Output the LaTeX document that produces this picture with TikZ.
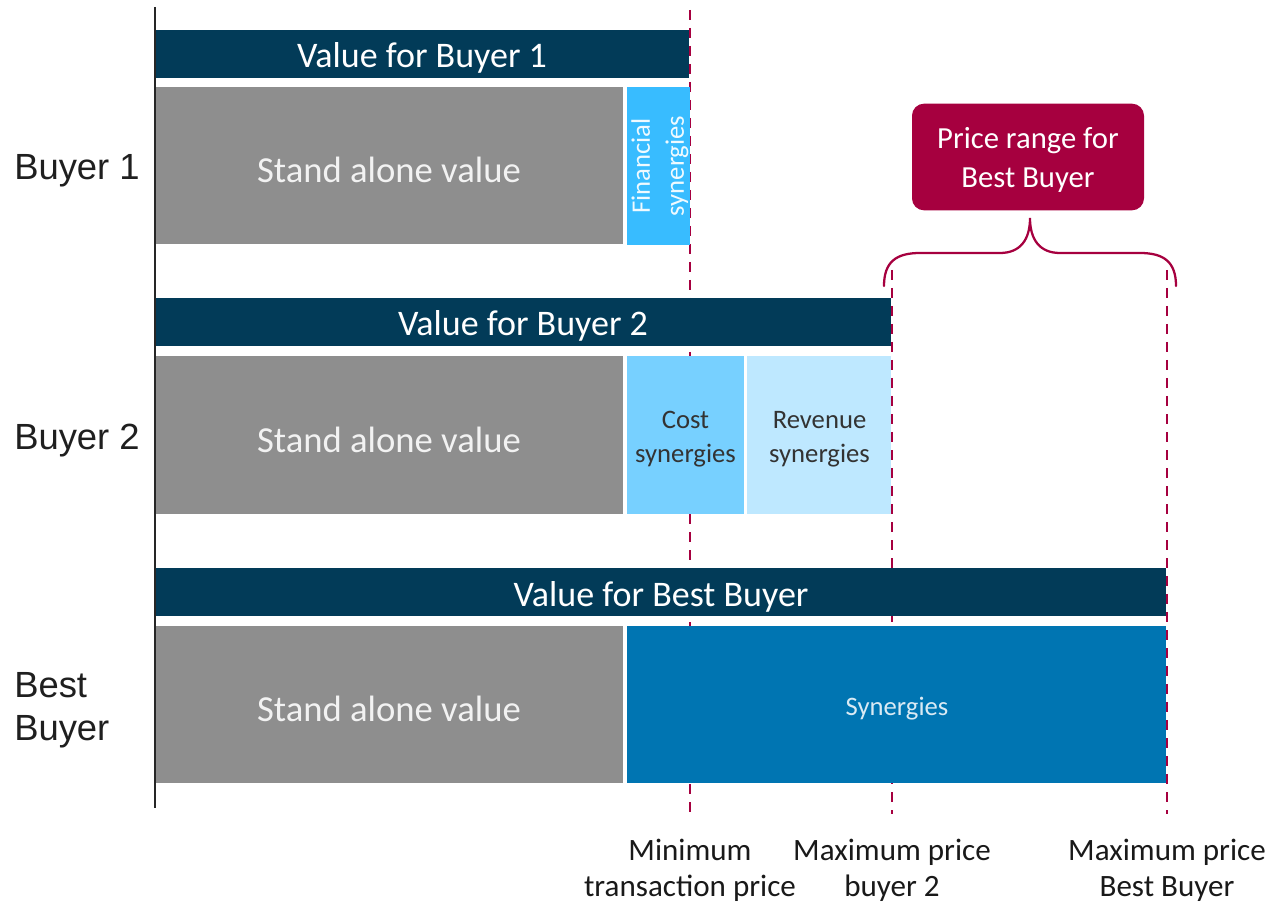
\documentclass[tikz,border=0pt]{standalone}
\usepackage{fontspec}
\setmainfont{Carlito}
\newfontfamily\labelfont{Liberation Sans}
\begin{document}
\definecolor{barblue}{HTML}{023B58}
\definecolor{standgrey}{HTML}{8E8E8E}
\definecolor{finblue}{HTML}{38BCFF}
\definecolor{costblue}{HTML}{77D0FF}
\definecolor{revblue}{HTML}{BEE8FF}
\definecolor{synblue}{HTML}{0075B2}
\definecolor{crimson}{HTML}{A6003F}
\begin{tikzpicture}[x=0.75pt,y=-0.75pt,
  bartext/.style={text=white,font=\fontsize{27}{30}\selectfont,inner sep=0pt},
  standtext/.style={text=black!5,font=\fontsize{27.5}{31}\selectfont,inner sep=0pt},
  syntext/.style={text=black!80,font=\fontsize{20}{25.5}\selectfont,align=center,inner sep=0pt},
  rowlabel/.style={anchor=west,text=black!88,font=\labelfont\fontsize{27.3}{32.3}\selectfont,align=left,inner sep=0pt},
  pricelabel/.style={text=black!90,font=\fontsize{23.3}{27}\selectfont,align=center,inner sep=0pt},
  pricemark/.style={draw=crimson,line width=2.2pt,dash pattern=on 7.5pt off 6pt},
  rangebox/.style={fill=crimson,rounded corners=9pt,minimum width=174pt,minimum height=80pt,inner sep=0pt},
  rangetext/.style={text=white,align=center,font=\fontsize{23}{29}\selectfont,inner sep=0pt}]
\useasboundingbox (0,0) rectangle (1268,902);

% price markers, drawn first so the bars cover them
\coordinate (m1top) at (690,10);
\coordinate (m1bot) at (690,814);
\coordinate (m2top) at (892,270);
\coordinate (m2bot) at (892,814);
\coordinate (m3top) at (1167,270);
\coordinate (m3bot) at (1167,814);
\draw[pricemark] (m1top) -- (m1bot);
\draw[pricemark] (m2top) -- (m2bot);
\draw[pricemark] (m3top) -- (m3bot);

% Buyer 1
\fill[barblue] (155,30) rectangle (689,78);
\node[bartext] (v1) at (422,58) {Value for Buyer 1};
\fill[standgrey] (155,87) rectangle (623,244);
\node[standtext] (s1) at (389,170) {Stand alone value};
\fill[finblue] (627,87) rectangle (690,245);
\node[syntext,text=white!92!finblue,rotate=90] (fin) at (660,166) {Financial\\synergies};

% Buyer 2
\fill[barblue] (155,298) rectangle (891,346);
\node[bartext] (v2) at (523,326) {Value for Buyer 2};
\fill[standgrey] (155,356) rectangle (623,514);
\node[standtext] (s2) at (389,440) {Stand alone value};
\fill[costblue] (627,356) rectangle (744,514);
\node[syntext] (cost) at (685.5,439) {Cost\\synergies};
\fill[revblue] (747,356) rectangle (891,514);
\node[syntext] (rev) at (819.5,439) {Revenue\\synergies};

% Best buyer
\fill[barblue] (155,568) rectangle (1166,616);
\node[bartext] (v3) at (661,597) {Value for Best Buyer};
\fill[standgrey] (155,626) rectangle (623,783);
\node[standtext] (s3) at (389,709) {Stand alone value};
\fill[synblue] (627,626) rectangle (1166,783);
\node[syntext,text=white!85!synblue] (syn) at (897,709) {Synergies};

% vertical axis
\draw[black!85,line width=1.6pt] (155,7) -- (155,808);

% row labels
\node[rowlabel] (b1) at (14,171) {Buyer 1};
\node[rowlabel] (b2) at (14,441) {Buyer 2};
\node[rowlabel] (b3) at (14,710) {Best\\Buyer};

\node[pricelabel] (p1) at (690,870) {Minimum\\transaction price};
\node[pricelabel] (p2) at (892,870) {Maximum price\\buyer 2};
\node[pricelabel] (p3) at (1167,870) {Maximum price\\Best Buyer};

% price range for the best buyer
\node[rangebox] (range) at (1028,157) {};
\node[rangetext] (rangelabel) at (1028,160) {Price range for\\Best Buyer};
\coordinate (brL) at (884,286);
\coordinate (brR) at (1176,286);
\coordinate (brM) at (1030,218);
\draw[crimson,line width=1.7pt,line cap=round]
  (brL) .. controls (884,262) and (896,253) .. (920,253)
  -- (1000,253) .. controls (1020,253) and (1030,240) .. (brM)
  .. controls (1030,240) and (1040,253) .. (1060,253)
  -- (1140,253) .. controls (1164,253) and (1176,262) .. (brR);
\end{tikzpicture}
\end{document}
